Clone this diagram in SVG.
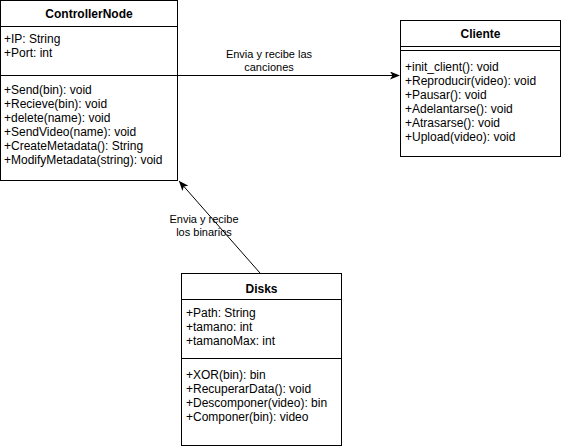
<svg xmlns="http://www.w3.org/2000/svg" width="561" height="448" viewBox="0 0 561 448">
<style>
text{font-family:"Liberation Sans",Arial,sans-serif;font-size:12px;fill:#000}
.t{font-weight:bold;text-anchor:middle}
.lbl{font-size:11px;text-anchor:middle}
.box{fill:#fff;stroke:#000;stroke-width:1}
.ln{stroke:#000;stroke-width:1;fill:none}
</style>
<defs>
<marker id="ah" viewBox="0 0 10 8" refX="9" refY="4" markerWidth="10" markerHeight="8" markerUnits="userSpaceOnUse" orient="auto">
<path d="M0,0 L10,4 L0,8 L2.5,4 Z" fill="#000"/>
</marker>
</defs>
<rect width="561" height="448" fill="#fff"/>
<g id="connectors">
<line class="ln" x1="178" y1="75.5" x2="399" y2="75.5" marker-end="url(#ah)"/>
<line class="ln" x1="260" y1="273" x2="179.5" y2="181.5" marker-end="url(#ah)"/>
<text class="lbl" x="269" y="58">Envia y recibe las</text>
<text class="lbl" x="269" y="71">canciones</text>
<text class="lbl" x="204" y="223">Envia y recibe</text>
<text class="lbl" x="204" y="236">los binarios</text>
</g>
<g id="ControllerNode">
<rect class="box" x="0.5" y="0.5" width="177" height="180"/>
<line class="ln" x1="0.5" y1="26.5" x2="177.5" y2="26.5"/>
<line class="ln" x1="0.5" y1="75.5" x2="177.5" y2="75.5"/>
<text class="t" x="89" y="18">ControllerNode</text>
<text x="4" y="43">+IP: String</text>
<text x="4" y="57">+Port: int</text>
<text x="4" y="94">+Send(bin): void</text>
<text x="4" y="108">+Recieve(bin): void</text>
<text x="4" y="122">+delete(name): void</text>
<text x="4" y="136">+SendVideo(name): void</text>
<text x="4" y="150">+CreateMetadata(): String</text>
<text x="4" y="164">+ModifyMetadata(string): void</text>
</g>
<g id="Cliente">
<rect class="box" x="400.5" y="20.5" width="160" height="136"/>
<line class="ln" x1="400.5" y1="46.5" x2="560.5" y2="46.5"/>
<line class="ln" x1="400.5" y1="50.5" x2="560.5" y2="50.5"/>
<text class="t" x="480.5" y="38">Cliente</text>
<text x="405" y="71">+init_client(): void</text>
<text x="405" y="85">+Reproducir(video): void</text>
<text x="405" y="99">+Pausar(): void</text>
<text x="405" y="113">+Adelantarse(): void</text>
<text x="405" y="127">+Atrasarse(): void</text>
<text x="405" y="141">+Upload(video): void</text>
</g>
<g id="Disks">
<rect class="box" x="181.5" y="273.5" width="160" height="172"/>
<line class="ln" x1="181.5" y1="299.5" x2="341.5" y2="299.5"/>
<line class="ln" x1="181.5" y1="358.5" x2="341.5" y2="358.5"/>
<text class="t" x="261.5" y="293">Disks</text>
<text x="186" y="317">+Path: String</text>
<text x="186" y="331">+tamano: int</text>
<text x="186" y="345">+tamanoMax: int</text>
<text x="186" y="379">+XOR(bin): bin</text>
<text x="186" y="393">+RecuperarData(): void</text>
<text x="186" y="407">+Descomponer(video): bin</text>
<text x="186" y="421">+Componer(bin): video</text>
</g>
</svg>
